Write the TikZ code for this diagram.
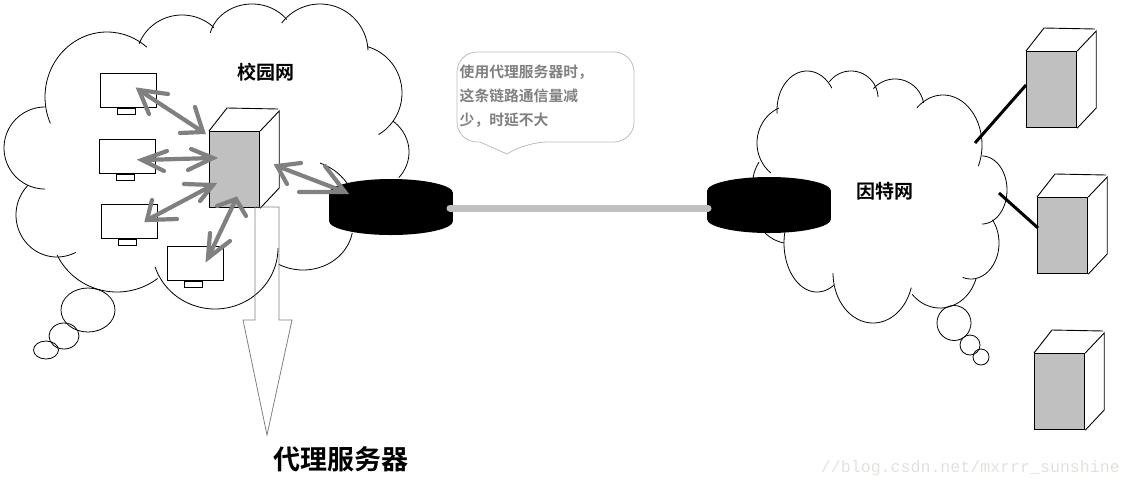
\documentclass[tikz,border=0pt]{standalone}
\usepackage{fontspec}
\setmonofont{Liberation Mono}
\newfontfamily\cjk{Noto Sans CJK SC}[BoldFont={* Bold}]
\definecolor{gr}{HTML}{808080}
\definecolor{lg}{HTML}{C0C0C0}
\definecolor{callout}{HTML}{BDBDBD}
\definecolor{wm}{HTML}{E2E2DC}
\tikzset{
 cloudline/.style={black,line width=0.8pt},
 srvfront/.style={draw=black,fill=lg,line width=1.2pt,minimum width=50pt,minimum height=76pt,inner sep=0pt,anchor=north west},
 srvback/.style={black,line width=0.9pt},
 compbox/.style={draw=black,fill=white,line width=1pt,minimum width=56pt,minimum height=34pt,inner sep=0pt,anchor=north west},
 compbase/.style={draw=black,fill=white,line width=0.8pt,minimum width=18pt,minimum height=5.5pt,inner sep=0pt,anchor=north,xshift=-2pt},
 garrowline/.style={gr,line width=4.2pt,line cap=round},
 linkline/.style={lg,line width=7pt,line cap=round},
 tapline/.style={black,line width=3pt},
 outlinearrow/.style={gr,line width=0.8pt},
 calloutbox/.style={callout,line width=0.8pt,rounded corners=20pt},
 bubble/.style={cloudline},
 title/.style={font=\cjk\bfseries\fontsize{19}{21}\selectfont,inner sep=0pt},
 bigtitle/.style={font=\cjk\bfseries\fontsize{27}{30}\selectfont,inner sep=0pt},
 calltext/.style={font=\cjk\bfseries\fontsize{14.8}{24}\selectfont,text=gr,inner sep=0pt,align=left,anchor=north west},
 watermark/.style={font=\ttfamily\fontsize{16.6}{18}\selectfont,text=wm,inner sep=0pt,anchor=east},
}
\newcommand{\carc}[6]{\draw[cloudline] plot[domain=#5:#6,samples=48] ({#1+#3*cos(\x)},{#2+#4*sin(\x)});}
\newcommand{\serverbox}[3]{%
 \node[srvfront] (#1) at (#2,#3) {};
 \draw[srvback] (#1.north west) -- ++(18,-23) -- ++(51,1);
 \draw[srvback] (#1.north east) -- ++(19,-20) -- ++(0,77) -- ($(#1.south east)$);
}
\newcommand{\compbox}[3]{%
 \node[compbox] (#1) at (#2,#3) {};
 \node[compbase] (#1b) at (#1.south) {};
}
\newcommand{\garrow}[7]{%
 \coordinate (#1s) at (#2); \coordinate (#1t) at (#3);
 \draw[garrowline] (#1s) -- (#1t);
 \draw[garrowline] (#4) -- (#1s) -- (#5);
 \draw[garrowline] (#6) -- (#1t) -- (#7);
}
\newcommand{\router}[3]{%
 \coordinate (#1) at (#2,#3);
 \fill[black] (#2,#3-14) ellipse [x radius=62,y radius=14];
 \fill[black] (#2,#3+14) ellipse [x radius=62,y radius=14];
 \fill[black] (#2-62,#3-14) rectangle (#2+62,#3+14);
}
\usetikzlibrary{calc}
\begin{document}
\begin{tikzpicture}[x=1pt,y=-1pt]
\useasboundingbox (0,0) rectangle (1131,488);
% left cloud
\carc{107}{97}{62}{65}{156}{310}
\carc{182}{60}{46}{45}{201}{314}
\carc{252}{42}{43}{38}{194}{324}
\carc{320}{52}{48}{48}{217}{358}
\carc{355}{93}{47}{48}{285}{420}
\carc{365}{152}{44}{40}{310}{400}
\carc{303}{225}{50}{45}{10}{119}
\carc{215}{248}{63}{61}{0}{162}
\carc{117}{228}{66}{64}{52}{155}
\carc{57}{215}{41}{42}{63}{225}
\carc{45}{148}{41}{41}{90}{270}
\draw[cloudline] (320,163) to[bend left=15] (347,183);
\draw[bubble] (88,310) ellipse [x radius=27,y radius=22];
\draw[bubble] (64,336) ellipse [x radius=15,y radius=13];
\draw[bubble] (46,350) ellipse [x radius=12.5,y radius=9];
% right cloud
\carc{807}{110}{30}{39}{175}{326}
\carc{851}{98}{27}{27}{217}{358}
\carc{895}{108}{29}{29}{222}{350}
\carc{943}{145}{39}{50}{228}{385}
\carc{982}{190}{25}{34}{270}{450}
\carc{971}{243}{28}{36}{320}{467}
\carc{940}{265}{38}{43}{19}{137}
\carc{873}{273}{40}{50}{17}{180}
\carc{817}{243}{33}{49}{60}{192}
\carc{793}{143}{36}{38}{128}{247}
\draw[cloudline] (759,162) to[bend right=10] (753,178);
\draw[cloudline] (765,233) to[bend right=15] (784,243);
\draw[bubble] (954,323) ellipse [x radius=17,y radius=17.5];
\draw[bubble] (970,345) ellipse [x radius=10,y radius=10];
\draw[bubble] (981,357) ellipse [x radius=8,y radius=8];
% computers
\compbox{pca}{100}{73}
\compbox{pcb}{99}{139}
\compbox{pcc}{101}{204}
\compbox{pcd}{167}{246}
% servers
\serverbox{proxy}{209}{131}
\serverbox{srva}{1026}{51}
\serverbox{srvb}{1037}{197}
\serverbox{srvc}{1034}{353}
% routers and link
\router{ra}{391}{207}
\router{rb}{769}{205}
\coordinate (rae) at (450,208);
\coordinate (rbw) at (708,208);
\draw[linkline] (rae) -- (rbw);
% grey double arrows
\garrow{a}{139,90}{203,132}{168,94}{149,114}{195,107}{180,133}
\garrow{b}{142,160}{213,158}{167,151}{164,171}{191,149}{188,170}
\garrow{c}{147,220}{213,185}{152,200}{177,219}{184,184}{200,201}
\garrow{d}{208,258}{236,199}{210,233}{230,241}{217,206}{246,216}
\garrow{e}{277,166}{345,192}{301,163}{287,184}{325,166}{299,192}
% tap lines
\coordinate (tapa) at (975,143); \coordinate (tapaend) at (1026,85);
\coordinate (tapb) at (999,193); \coordinate (tapbend) at (1038,228);
\draw[tapline] (tapa) -- (tapaend);
\draw[tapline] (tapb) -- (tapbend);
% outline arrow
\draw[outlinearrow] (255,207) -- (279,207) -- (279,320) -- (292,320) -- (267,435) -- (243,320) -- (255,320) -- cycle;
% callout
\draw[calloutbox] (457,52) -- (634,52) -- (634,142) -- (527,142) [sharp corners] -- (507,154) -- (480,142) [rounded corners=20pt] -- (457,142) -- cycle;
% texts
\node[title] (campus) at (266,72) {校园网};
\node[title] (inet) at (885,191) {因特网};
\node[bigtitle] (proxyname) at (341,459) {代理服务器};
\node[calltext] (calltxt) at (459.5,64.5) {使用代理服务器时，\\这条链路通信量减\\少，时延不大};
\node[watermark] (wmark) at (1120,468) {//blog.csdn.net/mxrrr\_sunshine};
\end{tikzpicture}
\end{document}
